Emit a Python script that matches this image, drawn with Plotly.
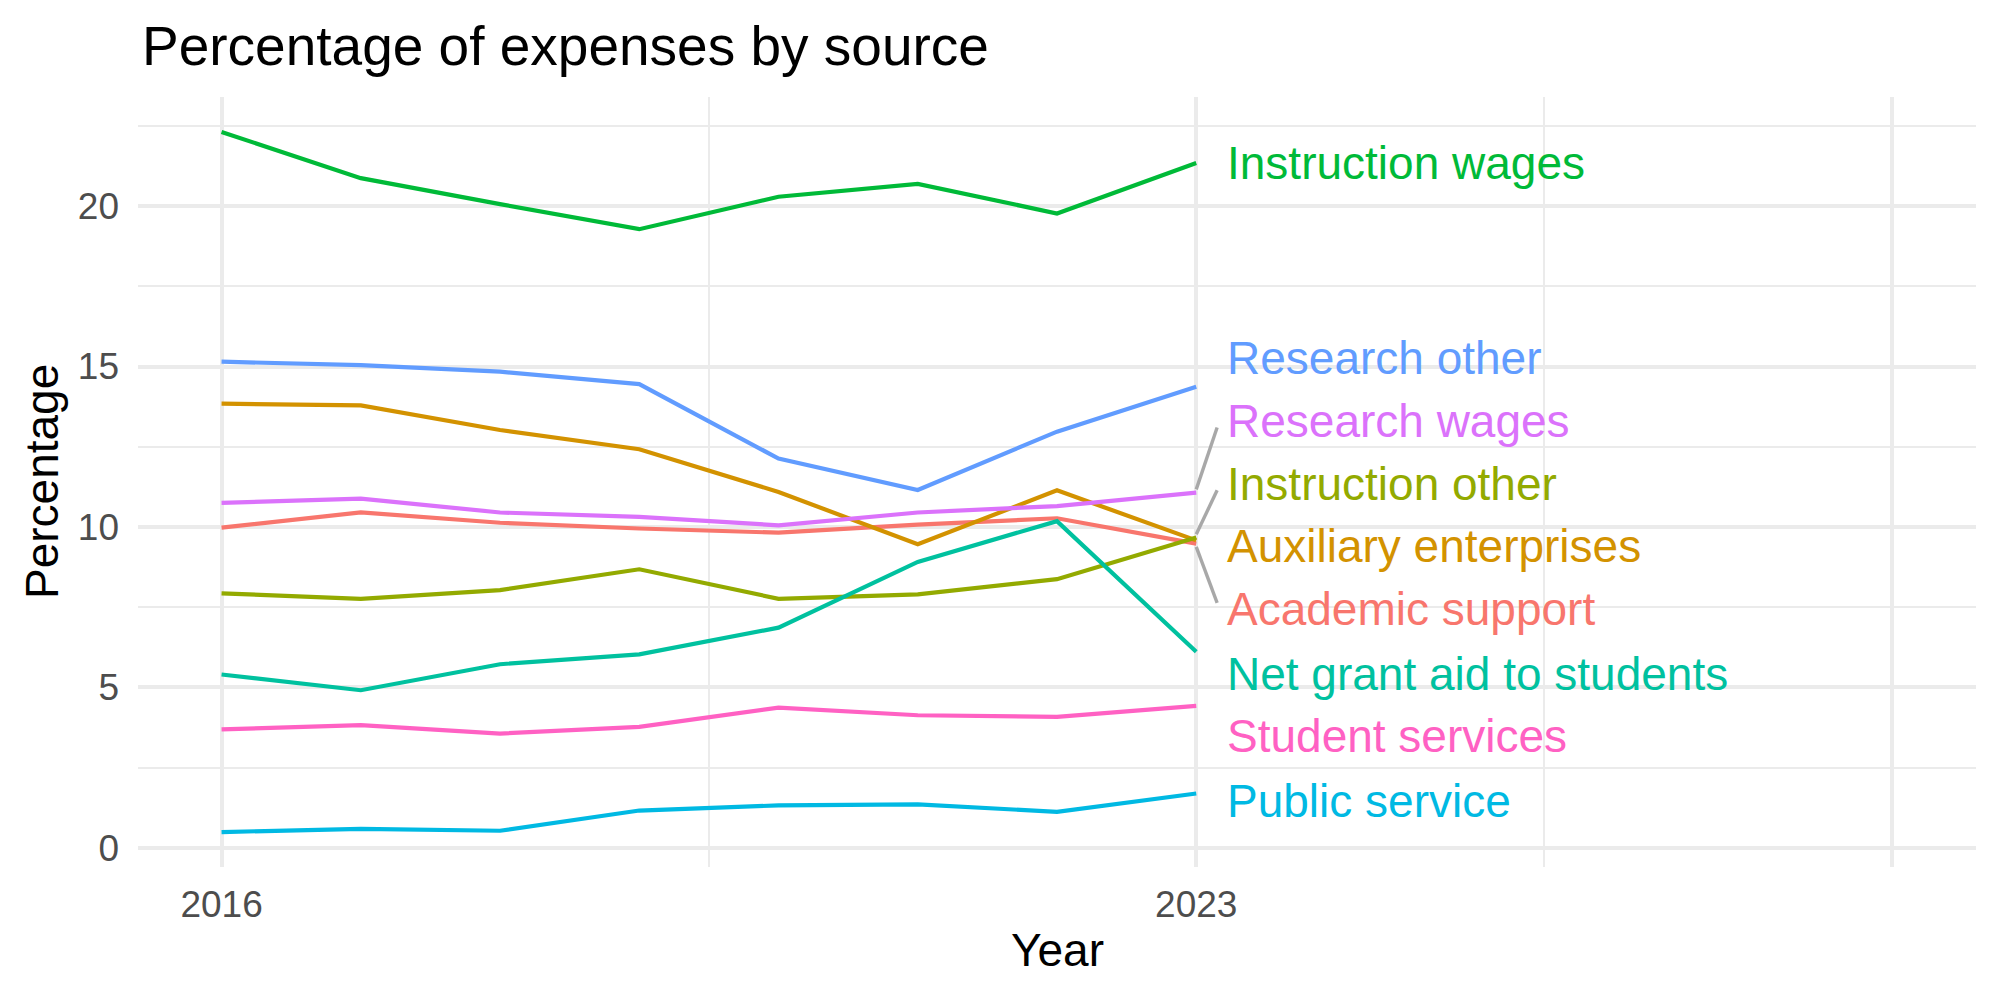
import plotly.graph_objects as go

years = [2016, 2017, 2018, 2019, 2020, 2021, 2022, 2023]

categories = [
    "Academic support", "Auxiliary enterprises", "Instruction other",
    "Instruction wages", "Net grant aid to students", "Public service",
    "Research other", "Research wages", "Student services",
]

academic_support = [9.98, 10.45, 10.13, 9.95, 9.82, 10.07, 10.27, 9.48]
auxiliary_enterprises = [13.84, 13.79, 13.02, 12.42, 11.09, 9.46, 11.14, 9.58]
instruction_other = [7.93, 7.76, 8.03, 8.68, 7.76, 7.90, 8.37, 9.67]
instruction_wages = [22.31, 20.87, 20.06, 19.28, 20.29, 20.69, 19.77, 21.34]
net_grant_aid = [5.40, 4.91, 5.72, 6.03, 6.86, 8.91, 10.18, 6.11]
public_service = [0.49, 0.59, 0.53, 1.16, 1.32, 1.35, 1.12, 1.69]
research_other = [15.15, 15.04, 14.84, 14.45, 12.13, 11.15, 12.97, 14.37]
research_wages = [10.75, 10.88, 10.45, 10.31, 10.05, 10.45, 10.65, 11.07]
student_services = [3.69, 3.82, 3.56, 3.77, 4.37, 4.13, 4.08, 4.42]

series = [academic_support, auxiliary_enterprises, instruction_other,
          instruction_wages, net_grant_aid, public_service,
          research_other, research_wages, student_services]

# repelled label positions (y values)
label_y = [7.43, 9.40, 11.34, 21.35, 5.43, 1.45, 15.27, 13.30, 3.47]

colors = ["#F8766D", "#D39200", "#93AA00", "#00BA38", "#00C19F",
          "#00B9E3", "#619CFF", "#DB72FB", "#FF61C3"]

x_ticks = [2016, 2023, 2028]
x_ticktext = ["2016", "2023", ""]
x_minor = [2019.5, 2025.5]
y_ticks = [0, 5, 10, 15, 20]
y_minor = [2.5, 7.5, 12.5, 17.5, 22.5]

FONT = "Liberation Sans, Arial, sans-serif"
LABEL_X = 2023.21
SEG_X = 2023.15

fig = go.Figure()

for name, vals, col in zip(categories, series, colors):
    fig.add_trace(go.Scatter(x=years, y=vals, mode="lines", name=name,
                             line=dict(color=col, width=4.2),
                             showlegend=False, hoverinfo="x+y+name"))

# repel segments
for name, vals, ly in zip(categories, series, label_y):
    last = vals[-1]
    d = ly - last
    if abs(d) > 1.2:
        s = 1 if d > 0 else -1
        fig.add_trace(go.Scatter(x=[years[-1], SEG_X], y=[last + 0.1 * s, ly - 0.2 * s],
                                 mode="lines", line=dict(color="#A8A8A8", width=3.4),
                                 showlegend=False, hoverinfo="skip"))

for name, ly, col in zip(categories, label_y, colors):
    fig.add_annotation(x=LABEL_X, y=ly, xref="x", yref="y", text=name,
                       showarrow=False, xanchor="left", yanchor="middle",
                       font=dict(family=FONT, size=46, color=col))

L, R, T, B = 138, 24, 97, 133
W, H = 2000, 1000
pw, ph = W - L - R, H - T - B

def px(xp):
    return (xp - L) / pw

def py(yp):
    return (H - B - yp) / ph

fig.add_annotation(x=px(140), y=py(46), xref="paper", yref="paper",
                   text="Percentage of expenses by source", showarrow=False,
                   xanchor="left", yanchor="middle",
                   font=dict(family=FONT, size=55, color="black"))
fig.add_annotation(x=px(1057), y=py(950), xref="paper", yref="paper",
                   text="Year", showarrow=False, xanchor="center", yanchor="middle",
                   font=dict(family=FONT, size=46, color="black"))
fig.add_annotation(x=px(42), y=py(482), xref="paper", yref="paper",
                   text="Percentage", showarrow=False, textangle=-90,
                   xanchor="center", yanchor="middle",
                   font=dict(family=FONT, size=46, color="black"))

fig.update_layout(
    width=W, height=H,
    margin=dict(l=L, r=R, t=T, b=B, pad=0),
    paper_bgcolor="white", plot_bgcolor="white",
    xaxis=dict(range=[2015.4, 2028.6], tickvals=x_ticks, ticktext=x_ticktext,
               showgrid=True, gridcolor="#EBEBEB", gridwidth=4.4,
               zeroline=False, showline=False, ticks="",
               ticklabelstandoff=12,
               tickfont=dict(family=FONT, size=37, color="#4D4D4D"),
               minor=dict(tickvals=x_minor, showgrid=True, gridcolor="#EBEBEB",
                          gridwidth=2.2, ticks="")),
    yaxis=dict(range=[-0.6, 23.4], tickvals=y_ticks,
               showgrid=True, gridcolor="#EBEBEB", gridwidth=4.4,
               zeroline=False, showline=False, ticks="",
               ticklabelstandoff=18,
               tickfont=dict(family=FONT, size=37, color="#4D4D4D"),
               minor=dict(tickvals=y_minor, showgrid=True, gridcolor="#EBEBEB",
                          gridwidth=2.2, ticks="")),
)

fig.write_html("out.html")
